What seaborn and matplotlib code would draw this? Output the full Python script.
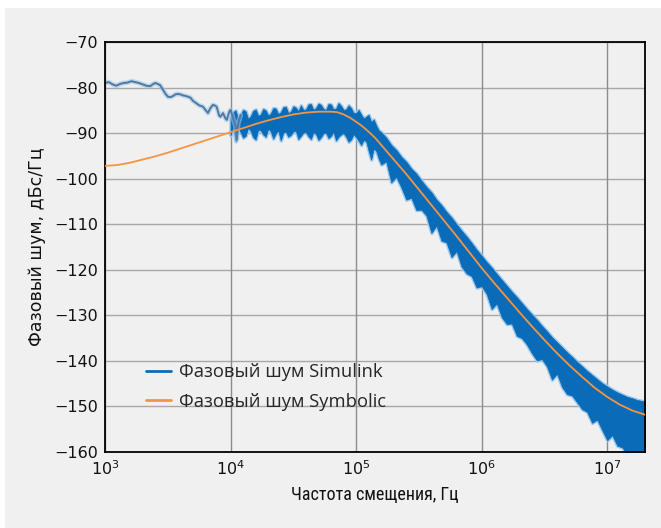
import numpy as np
import pandas as pd
import matplotlib
matplotlib.use("Agg")
import matplotlib.pyplot as plt
from matplotlib.patches import Rectangle
from matplotlib.lines import Line2D
from matplotlib import font_manager
import seaborn as sns

# ---------------- data ----------------
# Symbolic phase noise: log10(frequency) and level, dBc/Hz
sym_logf = [3.0, 3.1, 3.2, 3.3, 3.4, 3.5, 3.6, 3.7, 3.8, 3.9, 4.0, 4.1, 4.2, 4.3,
            4.4, 4.5, 4.6, 4.7, 4.8, 4.85, 4.9, 4.95, 5.0, 5.05, 5.1, 5.15, 5.2,
            5.3, 5.4, 5.5, 5.6, 5.7, 5.8, 5.9, 6.0, 6.1, 6.2, 6.3, 6.4, 6.5, 6.6,
            6.7, 6.8, 6.9, 7.0, 7.1, 7.2, 7.3]
sym_db = [-97.2, -97.0, -96.5, -95.8, -95.1, -94.3, -93.4, -92.5, -91.6, -90.7,
          -89.8, -88.9, -88.0, -87.2, -86.5, -85.9, -85.5, -85.3, -85.3, -85.4,
          -85.9, -86.6, -87.5, -88.5, -89.7, -91.0, -92.6, -95.8, -99.0, -102.4,
          -105.8, -109.2, -112.6, -116.1, -119.6, -122.9, -126.1, -129.3, -132.4,
          -135.4, -138.3, -141.0, -143.5, -145.9, -147.9, -149.6, -150.9, -151.8]

# Simulink phase noise, sparse low-frequency trace
sim_line_logf = [3.00, 3.03, 3.06, 3.09, 3.12, 3.15, 3.18, 3.21, 3.24, 3.27, 3.30,
                 3.33, 3.36, 3.38, 3.40, 3.42, 3.44, 3.46, 3.48, 3.50, 3.52, 3.54,
                 3.56, 3.58, 3.60, 3.62, 3.65, 3.68, 3.70, 3.73, 3.75, 3.78, 3.80,
                 3.82, 3.84, 3.86, 3.88, 3.89, 3.91, 3.92, 3.94, 3.96, 3.97, 3.99,
                 4.00, 4.02, 4.04, 4.05, 4.06, 4.08]
sim_line_db = [-79.0, -78.8, -79.3, -79.6, -79.2, -79.0, -78.9, -78.6, -78.8, -79.0,
               -79.3, -79.6, -79.7, -79.3, -79.0, -79.2, -79.5, -80.4, -81.3, -82.0,
               -82.1, -81.9, -81.5, -81.4, -81.5, -81.7, -81.9, -82.2, -82.9, -83.5,
               -83.9, -84.2, -84.9, -85.6, -84.5, -83.8, -84.0, -84.3, -86.2, -86.4,
               -85.6, -86.8, -87.1, -85.3, -84.9, -86.7, -88.5, -91.5, -88.0, -86.0]

# Simulink phase noise, dense band: upper / lower envelope
band_logf = [4.00, 4.02, 4.04, 4.06, 4.08, 4.10, 4.12, 4.14, 4.16, 4.18, 4.20, 4.22,
             4.24, 4.26, 4.28, 4.30, 4.32, 4.34, 4.36, 4.38, 4.40, 4.42, 4.44, 4.46,
             4.48, 4.50, 4.52, 4.54, 4.56, 4.58, 4.60, 4.62, 4.64, 4.66, 4.68, 4.70,
             4.72, 4.74, 4.76, 4.78, 4.80, 4.82, 4.84, 4.86, 4.88, 4.90, 4.92, 4.94,
             4.96, 4.98, 5.00, 5.02, 5.04, 5.06, 5.08, 5.10, 5.12, 5.14, 5.16, 5.18,
             5.20, 5.24, 5.28, 5.32, 5.36, 5.40,
             5.44, 5.48, 5.52, 5.56, 5.60, 5.64, 5.68, 5.72, 5.76, 5.80, 5.84, 5.88,
             5.92, 5.96, 6.00, 6.04, 6.08, 6.12, 6.16, 6.20, 6.24, 6.28, 6.32, 6.36,
             6.40, 6.44, 6.48, 6.52, 6.56, 6.60, 6.64, 6.68, 6.72, 6.76, 6.80, 6.84,
             6.88, 6.92, 6.96, 7.00, 7.04, 7.08, 7.12, 7.16, 7.20, 7.24, 7.28, 7.32]
band_high = [-86.5, -85.4, -85.0, -86.8, -86.0, -84.9, -85.2, -86.9, -86.3, -85.1,
             -84.8, -86.2, -85.9, -84.7, -85.0, -86.1, -85.7, -84.5, -84.6, -85.8,
             -85.4, -84.3, -84.2, -85.6, -85.3, -84.1, -84.4, -85.2, -83.9, -84.9,
             -84.8, -83.7, -83.6, -84.9, -84.5, -83.5, -83.8, -84.7, -84.9, -83.6,
             -83.7, -84.8, -84.6, -83.4, -84.0, -84.9, -84.8, -83.9, -84.5, -85.6,
             -85.6, -84.9, -85.9, -86.8, -86.4, -86.0, -87.6, -87.0, -88.3, -89.4,
             -89.8, -91.0, -92.6, -93.7, -95.2, -96.3,
             -97.8, -98.9, -100.4, -101.8,
             -103.0, -104.6, -105.8, -107.3, -108.5, -110.0, -111.4, -112.7, -114.1,
             -115.6, -116.9, -118.3, -119.5, -120.9, -122.2, -123.5, -124.8, -126.0,
             -127.3, -128.6, -129.8, -131.0, -132.3, -133.5, -134.8, -135.9, -137.0,
             -138.1, -139.1, -140.2, -141.2, -142.2, -143.1, -144.0, -144.9, -145.6,
             -146.3, -146.9, -147.4, -147.9, -148.2, -148.6, -148.8, -149.0]
band_low = [-90.5, -88.6, -91.8, -88.9, -89.8, -91.0, -90.6, -88.8, -89.5, -90.9,
            -91.4, -89.2, -89.4, -90.3, -90.8, -89.0, -89.6, -91.2, -90.1, -89.4,
            -91.6, -89.9, -89.7, -90.8, -90.4, -89.6, -89.5, -91.3, -90.6, -89.9,
            -89.8, -90.7, -91.3, -89.8, -90.2, -91.5, -90.9, -90.0, -89.9, -91.1,
            -90.6, -89.7, -91.6, -90.8, -90.3, -90.0, -90.8, -91.9, -91.4, -90.2,
            -90.9, -91.7, -92.6, -91.5, -91.8, -93.9, -95.8, -93.4, -93.9, -95.6,
            -96.9, -96.2, -100.8, -99.6, -101.9, -104.6, -104.2, -106.9, -106.8,
            -108.1, -111.9, -110.3, -113.6, -114.0, -117.2, -115.9, -119.3, -120.8,
            -121.4, -123.9, -123.6, -125.3, -128.6, -127.4, -130.4, -131.9, -131.8,
            -134.5, -135.0, -136.4, -138.3, -139.9, -139.6, -141.2, -144.1, -142.8,
            -145.7, -147.3, -147.6, -149.1, -150.6, -151.2, -153.6, -152.9, -155.2,
            -157.4, -156.3, -158.6, -159.0, -160.5, -160.8, -161.0, -161.5, -162.0]

y_ticks = [-70, -80, -90, -100, -110, -120, -130, -140, -150, -160]
x_ticks = [1e3, 1e4, 1e5, 1e6, 1e7]
x_ticklabels = ["$10^{3}$", "$10^{4}$", "$10^{5}$", "$10^{6}$", "$10^{7}$"]

label_sim = "Фазовый шум Simulink"
label_sym = "Фазовый шум Symbolic"
x_title = "Частота смещения, Гц"
y_title = "Фазовый шум, дБс/Гц"

# ---------------- styling ----------------
sns.set_theme(style="white")
plt.rcParams["font.family"] = ["DejaVu Sans"]
plt.rcParams["axes.unicode_minus"] = True

available = {f.name for f in font_manager.fontManager.ttflist}
legend_font = "Open Sans" if "Open Sans" in available else "DejaVu Sans"
narrow_font = None
for cand in ["Liberation Sans Narrow", "Roboto Condensed", "Open Sans"]:
    if cand in available:
        narrow_font = cand
        break
if narrow_font is None:
    narrow_font = "DejaVu Sans"

BG = "#f0f0f0"
BLUE = "#0a6cb8"
HALO = "#9cc8ec"
ORANGE = "#f7943f"

fig = plt.figure(figsize=(6.61, 5.28), dpi=100, facecolor="white")
fig.patches.append(Rectangle((5 / 661, 0), 656 / 661, 520 / 528,
                             transform=fig.transFigure, facecolor=BG,
                             edgecolor="none", zorder=-10))
ax = fig.add_axes([105 / 661, 1 - 452 / 528, 540 / 661, 410 / 528])
ax.set_facecolor(BG)
ax.set_xscale("log")

# dense band (soft halo, then solid)
band_f = [10 ** v for v in band_logf]
ax.fill_between(band_f, band_low, band_high, color=HALO, linewidth=2.5,
                edgecolor=HALO, zorder=2)
ax.fill_between(band_f, band_low, band_high, color=BLUE, linewidth=0.5,
                edgecolor=BLUE, zorder=2)

# sparse part of Simulink trace
df_line = pd.DataFrame({"f": [10 ** v for v in sim_line_logf], "db": sim_line_db})
sns.lineplot(data=df_line, x="f", y="db", ax=ax, color=HALO, linewidth=3.5,
             estimator=None, sort=False, zorder=2, alpha=0.6)
sns.lineplot(data=df_line, x="f", y="db", ax=ax, color="#52789e", linewidth=1.4,
             estimator=None, sort=False, zorder=2)

# Symbolic
df_sym = pd.DataFrame({"f": [10 ** v for v in sym_logf], "db": sym_db})
sns.lineplot(data=df_sym, x="f", y="db", ax=ax, color=ORANGE, linewidth=1.3,
             estimator=None, sort=False, zorder=3)

ax.set_xlim(1e3, 2e7)
ax.set_ylim(-160, -70)
ax.set_yticks(y_ticks)
ax.set_xticks(x_ticks)
ax.set_xticklabels(x_ticklabels)

# grid
for yv in y_ticks:
    ax.axhline(yv, color="#a8a8a8", linewidth=1.0, zorder=1)
for xv in x_ticks:
    ax.axvline(xv, color="#8c8c8c", linewidth=1.0, zorder=1)

for sp in ax.spines.values():
    sp.set_color("black")
    sp.set_linewidth(1.3)
    sp.set_visible(True)

ax.tick_params(axis="both", which="major", direction="in", length=6, width=1,
               color="black", labelsize=11.5, labelcolor="#111111", pad=5)
ax.tick_params(axis="x", which="minor", direction="in", length=4, width=0.8,
               color="black")
ax.tick_params(axis="y", which="minor", left=False)
ax.tick_params(top=False, right=False)

ax.set_xlabel(x_title, fontsize=13, family=narrow_font, color="#111111", labelpad=6)
ax.set_ylabel(y_title, fontsize=12.5, color="#111111", labelpad=6)

handles = [Line2D([0], [0], color=BLUE, lw=2), Line2D([0], [0], color=ORANGE, lw=2)]
leg = ax.legend(handles, [label_sim, label_sym], loc="lower left",
                bbox_to_anchor=(0.045, 0.06), frameon=False,
                prop={"family": legend_font, "size": 13.2}, handlelength=1.35,
                handletextpad=0.45, labelspacing=0.65)

fig.savefig("out.png", dpi=100, facecolor=fig.get_facecolor())
